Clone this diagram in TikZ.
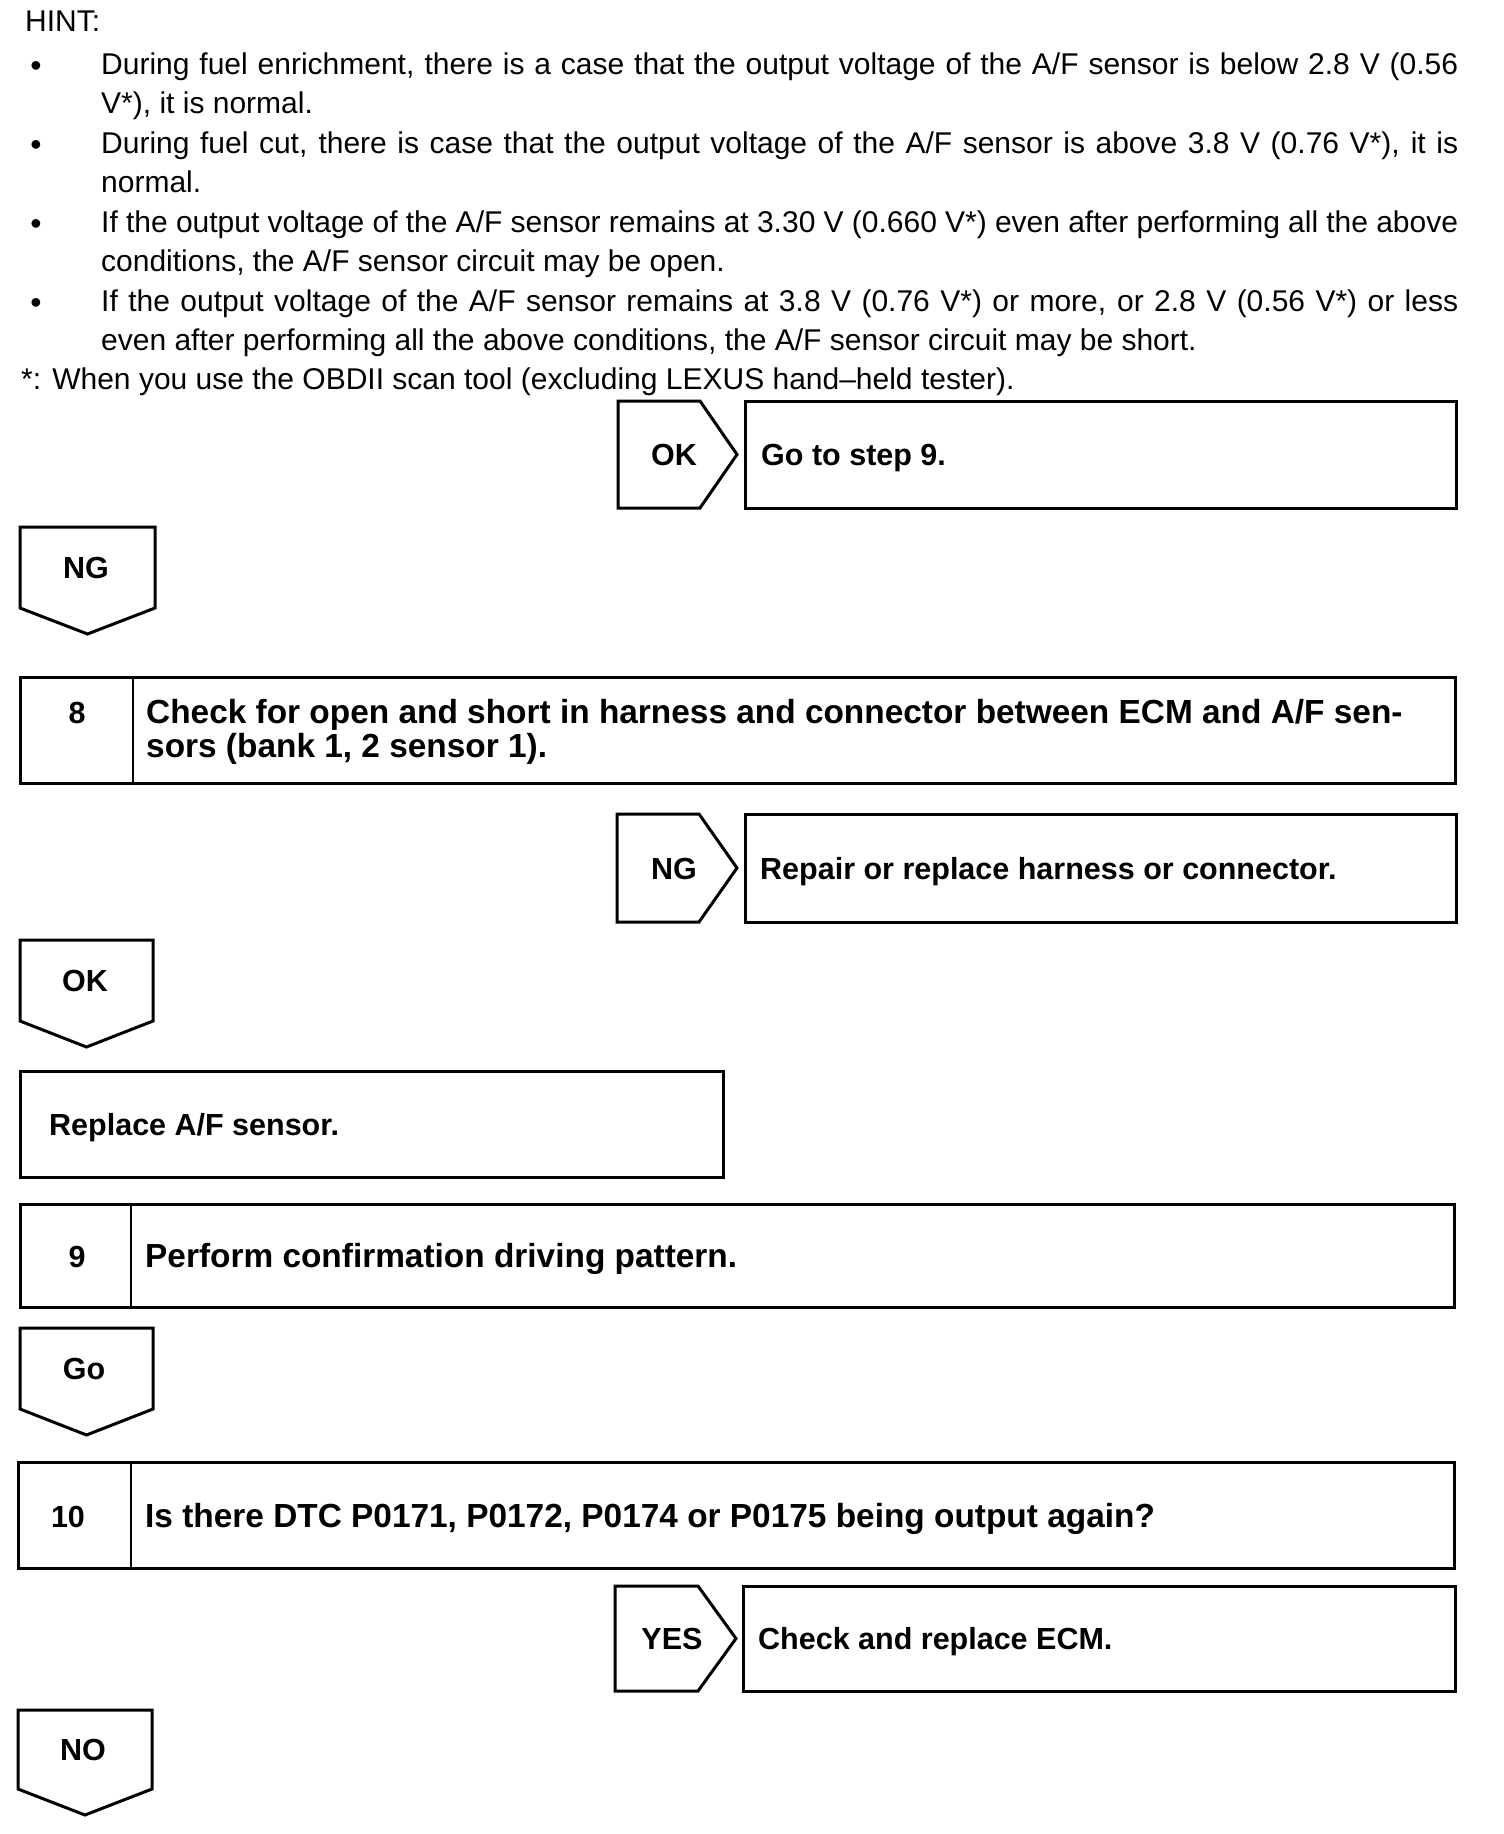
\documentclass[tikz,border=0pt]{standalone}
\usepackage{fontspec}
\setmainfont{Liberation Sans}
\tikzset{
  hint/.style={anchor=base west, inner sep=0pt, font=\fontsize{30}{36}\selectfont},
  bul/.style={anchor=base, inner sep=0pt, font=\fontsize{32}{36}\selectfont},
  lbl/.style={anchor=base, inner sep=0pt, font=\bfseries\fontsize{30.5}{36}\selectfont},
  res/.style={anchor=base west, inner sep=0pt, font=\bfseries\fontsize{30.5}{36}\selectfont},
  stp/.style={anchor=base west, inner sep=0pt, font=\bfseries\fontsize{33.4}{34}\selectfont},
  frame/.style={line width=3pt, line join=miter},
  divider/.style={line width=2pt},
}
\newcommand{\jline}[1]{\makebox[1357pt][s]{#1}}
\begin{document}
\begin{tikzpicture}[x=1pt,y=-1pt]
\useasboundingbox (0,0) rectangle (1504,1834);
\fill[white] (0,0) rectangle (1504,1834);

% ---- hint text ----
\node[hint] (hint) at (25,31) {HINT:};
\node[bul] (b1) at (36,76) {•};
\node[hint] (l1) at (101,74) {\jline{During fuel enrichment, there is a case that the output voltage of the A/F sensor is below 2.8 V (0.56}};
\node[hint] (l2) at (101,113.5) {V*), it is normal.};
\node[bul] (b2) at (36,155) {•};
\node[hint] (l3) at (101,153) {\jline{During fuel cut, there is case that the output voltage of the A/F sensor is above 3.8 V (0.76 V*), it is}};
\node[hint] (l4) at (101,192.5) {normal.};
\node[bul] (b3) at (36,234) {•};
\node[hint] (l5) at (101,232) {\jline{If the output voltage of the A/F sensor remains at 3.30 V (0.660 V*) even after performing all the above}};
\node[hint] (l6) at (101,271.5) {conditions, the A/F sensor circuit may be open.};
\node[bul] (b4) at (36,313) {•};
\node[hint] (l7) at (101,311) {\jline{If the output voltage of the A/F sensor remains at 3.8 V (0.76 V*) or more, or 2.8 V (0.56 V*) or less}};
\node[hint] (l8) at (101,350.5) {even after performing all the above conditions, the A/F sensor circuit may be short.};
\node[hint] (fn) at (21,389) {*: When you use the OBDII scan tool (excluding LEXUS hand–held tester).};

% ---- OK -> Go to step 9 ----
\draw[frame] (618,401) -- (700,401) -- (737,454.5) -- (700,508) -- (618,508) -- cycle;
\node[lbl] (okr) at (674,465.5) {OK};
\draw[frame] (745,401) rectangle (1456,508);
\node[res] (go9) at (761,465.5) {Go to step 9.};

% ---- NG down ----
\draw[frame] (20,527) -- (155,527) -- (155,608) -- (87.5,634) -- (20,608) -- cycle;
\node[lbl] (ngd) at (86,578.5) {NG};

% ---- Step 8 ----
\draw[frame] (20,677) rectangle (1455,783);
\draw[divider] (133,677) -- (133,783);
\node[lbl] (n8) at (77,723) {8};
\node[stp] (s8a) at (146,723) {Check for open and short in harness and connector between ECM and A/F sen-};
\node[stp] (s8b) at (146,757) {sors (bank 1, 2 sensor 1).};

% ---- NG -> repair ----
\draw[frame] (617,814) -- (699,814) -- (737,868) -- (699,922) -- (617,922) -- cycle;
\node[lbl] (ngr) at (674,879) {NG};
\draw[frame] (745,814) rectangle (1456,922);
\node[res] (rep) at (760,879) {Repair or replace harness or connector.};

% ---- OK down ----
\draw[frame] (20,940) -- (153,940) -- (153,1021) -- (86.5,1047) -- (20,1021) -- cycle;
\node[lbl] (okd) at (85,991.5) {OK};

% ---- Replace A/F sensor ----
\draw[frame] (20,1071) rectangle (723,1177);
\node[res] (repl) at (49,1135) {Replace A/F sensor.};

% ---- Step 9 ----
\draw[frame] (20,1204) rectangle (1454,1307);
\draw[divider] (131,1204) -- (131,1307);
\node[lbl] (n9) at (77,1267.5) {9};
\node[stp] (s9) at (145,1267.5) {Perform confirmation driving pattern.};

% ---- Go down ----
\draw[frame] (20,1328) -- (153,1328) -- (153,1409) -- (86.5,1435) -- (20,1409) -- cycle;
\node[lbl] (god) at (84,1379.5) {Go};

% ---- Step 10 ----
\draw[frame] (18,1462) rectangle (1454,1568);
\draw[divider] (131,1462) -- (131,1568);
\node[lbl] (n10) at (68,1527) {10};
\node[stp] (s10) at (145,1527) {Is there DTC P0171, P0172, P0174 or P0175 being output again?};

% ---- YES -> ECM ----
\draw[frame] (615,1586) -- (698,1586) -- (736,1638.5) -- (698,1691) -- (615,1691) -- cycle;
\node[lbl] (yesr) at (672,1649.5) {YES};
\draw[frame] (743,1586) rectangle (1455,1691);
\node[res] (ecm) at (758,1649.5) {Check and replace ECM.};

% ---- NO down ----
\draw[frame] (18,1710) -- (152,1710) -- (152,1789) -- (85,1815) -- (18,1789) -- cycle;
\node[lbl] (nod) at (83,1760.5) {NO};
\end{tikzpicture}
\end{document}
